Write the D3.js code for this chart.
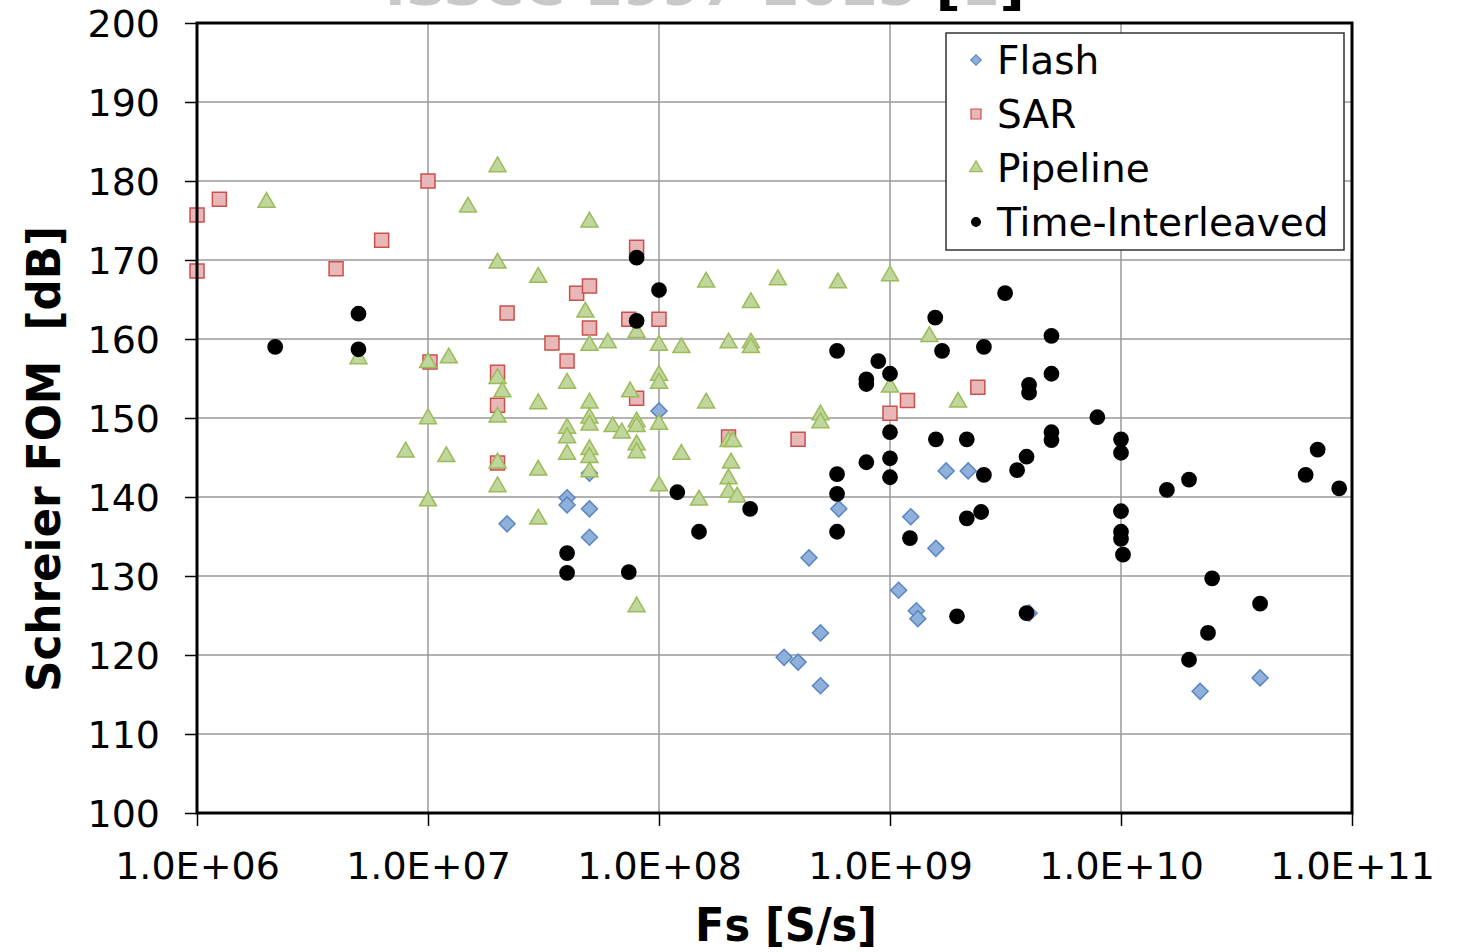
<!DOCTYPE html>
<meta charset="utf-8">
<script src="https://cdnjs.cloudflare.com/ajax/libs/d3/7.8.5/d3.min.js"></script>
<style>
  body { margin: 0; background: #fff; }
  text { font-family: "DejaVu Sans", Verdana, sans-serif; }
</style>
<div id="my_dataviz"></div>
<script>

// series data: [Fs in S/s, Schreier FOM in dB]
var flash = [
  [2.2e7, 136.6], [4e7, 139.9], [4e7, 139.0], [5e7, 143.0], [5e7, 138.5],
  [5e7, 134.9], [1e8, 150.9], [6e8, 138.5], [4.46e8, 132.3], [5e8, 122.8],
  [3.48e8, 119.7], [4e8, 119.1], [5e8, 116.1], [1.75e9, 143.3], [2.18e9, 143.3],
  [1.23e9, 137.5], [1.58e9, 133.5], [1.09e9, 128.2], [1.3e9, 125.6], [1.32e9, 124.6],
  [4e9, 125.3], [2.2e10, 115.4], [4e10, 117.1]
];

var sar = [
  [1e6, 175.7], [1e6, 168.6], [1.25e6, 177.7], [4e6, 168.9], [6.3e6, 172.5],
  [1e7, 180.0], [1.02e7, 157.1], [2.2e7, 163.3], [2e7, 155.8], [2e7, 151.6],
  [2e7, 144.3], [3.44e7, 159.5], [4e7, 157.2], [4.4e7, 165.8], [5e7, 166.7],
  [5e7, 161.4], [7.4e7, 162.5], [8e7, 171.6], [8e7, 152.5], [1e8, 162.5],
  [2e8, 147.6], [4e8, 147.3], [1e9, 150.6], [1.19e9, 152.2], [2.4e9, 153.9]
];

var pipeline = [
  [2e6, 177.3], [1.49e7, 176.7], [5e6, 157.5], [1e7, 157.0], [1.23e7, 157.6],
  [2e7, 181.8], [5e7, 174.8], [2e7, 169.6], [3e7, 167.8], [4.8e7, 163.4],
  [8e7, 160.8], [5e7, 159.2], [6e7, 159.5], [1e8, 159.2], [1.25e8, 158.9],
  [2e7, 155.0], [2.1e7, 153.3], [4e7, 154.4], [1e8, 155.4], [1e8, 154.4],
  [7.5e7, 153.3], [3e7, 151.8], [5e7, 151.9], [1.6e8, 151.9], [2e7, 150.1],
  [4e7, 148.7], [4e7, 147.5], [5e7, 150.0], [5e7, 149.1], [6.3e7, 148.9],
  [6.9e7, 148.1], [8e7, 149.5], [8e7, 148.9], [1e8, 149.2], [2e8, 147.0],
  [8e7, 146.6], [8e7, 145.6], [4e7, 145.4], [5e7, 146.0], [5e7, 145.0],
  [2e7, 144.3], [3e7, 143.4], [5e7, 143.2], [1.25e8, 145.4], [2.05e8, 144.3],
  [2e8, 142.3], [2e8, 140.6], [2.18e8, 140.0], [2e7, 141.3], [1e8, 141.4],
  [1.49e8, 139.6], [3e7, 137.2], [8e7, 126.1], [1e7, 149.9], [8e6, 145.7],
  [1.2e7, 145.1], [1e7, 139.5], [1.6e8, 167.2], [3.27e8, 167.5], [5.95e8, 167.1],
  [1e9, 168.0], [2.5e8, 164.6], [2e8, 159.5], [2.5e8, 159.5], [2.5e8, 158.9],
  [1.48e9, 160.3], [1e9, 153.9], [1.97e9, 152.0], [5e8, 150.4], [5e8, 149.4],
  [2.09e8, 147.0]
];

var timeInterleaved = [
  [2.18e6, 159.0], [5e6, 163.2], [5e6, 158.7], [8e7, 170.3], [1e8, 166.2],
  [8e7, 162.3], [1.2e8, 140.6], [2.48e8, 138.5], [1.49e8, 135.6], [4e7, 132.9],
  [4e7, 130.4], [7.4e7, 130.5], [3.15e9, 165.8], [1.57e9, 162.7], [1.68e9, 158.5],
  [2.55e9, 159.0], [5.9e8, 158.5], [8.9e8, 157.2], [1e9, 155.6], [7.9e8, 154.9],
  [7.9e8, 154.3], [1e9, 148.2], [1.58e9, 147.3], [2.15e9, 147.3], [7.9e8, 144.4],
  [1e9, 144.9], [1e9, 142.5], [5.9e8, 142.9], [2.55e9, 142.8], [3.55e9, 143.4],
  [5.9e8, 140.4], [5.9e8, 135.6], [1.22e9, 134.8], [2.15e9, 137.3], [2.48e9, 138.1],
  [1.95e9, 124.9], [3.9e9, 125.3], [5e9, 160.4], [5e9, 155.6], [4e9, 154.2],
  [4e9, 153.2], [7.9e9, 150.1], [5e9, 148.2], [5e9, 147.2], [3.9e9, 145.1],
  [1e10, 147.3], [1e10, 145.6], [1.58e10, 140.9], [1.97e10, 142.2], [7.1e10, 146.0],
  [6.3e10, 142.8], [8.8e10, 141.1], [1e10, 138.2], [1e10, 135.6], [1e10, 134.7],
  [1.02e10, 132.7], [2.48e10, 129.7], [4e10, 126.5], [2.38e10, 122.8], [1.97e10, 119.4]
];

var seriesNames = ["Flash", "SAR", "Pipeline", "Time-Interleaved"];
var xTicks = [1e6, 1e7, 1e8, 1e9, 1e10, 1e11];
var yTicks = [100, 110, 120, 130, 140, 150, 160, 170, 180, 190, 200];

// set the dimensions and margins of the graph
var margin = {top: 23, right: 105, bottom: 139, left: 197},
    width = 1457 - margin.left - margin.right,
    height = 952 - margin.top - margin.bottom;

var svg = d3.select("#my_dataviz")
  .append("svg")
    .attr("width", 1457)
    .attr("height", 952);

var g = svg.append("g")
    .attr("transform", "translate(" + margin.left + "," + margin.top + ")");

var x = d3.scaleLog().domain([1e6, 1e11]).range([0, width]);
var y = d3.scaleLinear().domain([100, 200]).range([height, 0]);

// marker styles per series
var styles = {
  "Flash":            {type: d3.symbolSquare,   size: 128, rotate: 45, fill: "#8fb0da", stroke: "#5b86c2"},
  "SAR":              {type: d3.symbolSquare,   size: 196, rotate: 0,  fill: "#e8b8b8", stroke: "#c9504c"},
  "Pipeline":         {type: d3.symbolTriangle, size: 125, rotate: 0,  fill: "#c1d69c", stroke: "#9bbb59"},
  "Time-Interleaved": {type: d3.symbolCircle,   size: 160, rotate: 0,  fill: "#000000", stroke: "#000000"}
};

// gridlines
g.append("g")
  .selectAll("line.vgrid")
  .data(xTicks)
  .enter().append("line")
    .attr("x1", function(d) { return x(d); })
    .attr("x2", function(d) { return x(d); })
    .attr("y1", 0).attr("y2", height)
    .attr("stroke", "#9a9a9a").attr("stroke-width", 1.5);

g.append("g")
  .selectAll("line.hgrid")
  .data(yTicks)
  .enter().append("line")
    .attr("x1", 0).attr("x2", width)
    .attr("y1", function(d) { return y(d); })
    .attr("y2", function(d) { return y(d); })
    .attr("stroke", "#9a9a9a").attr("stroke-width", 1.5);

// Add the x Axis
var xAxis = g.append("g")
    .attr("transform", "translate(0," + height + ")")
    .call(d3.axisBottom(x)
      .tickValues(xTicks)
      .tickSize(13)
      .tickPadding(26)
      .tickFormat(function(d) { return "1.0E+" + d3.format("02d")(Math.round(Math.log10(d))); }));

// Add the y Axis
var yAxis = g.append("g")
    .call(d3.axisLeft(y)
      .tickValues(yTicks)
      .tickSize(12)
      .tickPadding(25)
      .tickFormat(d3.format("d")));

[xAxis, yAxis].forEach(function(a) {
  a.select(".domain").remove();
  a.selectAll(".tick line").attr("stroke", "#000").attr("stroke-width", 1.5);
  a.selectAll(".tick text")
    .attr("fill", "#000")
    .style("font-size", "38px")
    .style("font-family", "'DejaVu Sans', Verdana, sans-serif");
});
yAxis.selectAll(".tick text").attr("dy", "0.36em");

// points, drawn in series order so later series sit on top
var allData = [flash, sar, pipeline, timeInterleaved];
allData.forEach(function(data, i) {
  var st = styles[seriesNames[i]];
  g.append("g")
    .selectAll("path")
    .data(data)
    .enter().append("path")
      .attr("d", d3.symbol().type(st.type).size(st.size))
      .attr("transform", function(d) {
        return "translate(" + x(d[0]) + "," + y(d[1]) + ") rotate(" + st.rotate + ")";
      })
      .attr("fill", st.fill)
      .attr("stroke", st.stroke)
      .attr("stroke-width", 1.5);
});

// plot border
g.append("rect")
    .attr("x", 0).attr("y", 0)
    .attr("width", width).attr("height", height)
    .attr("fill", "none")
    .attr("stroke", "#000")
    .attr("stroke-width", 3);

// legend
var legend = svg.append("g").attr("transform", "translate(946,33)");
legend.append("rect")
    .attr("width", 398).attr("height", 217)
    .attr("fill", "#fff")
    .attr("stroke", "#333").attr("stroke-width", 1.5);

var legendSize = {"Flash": 55, "SAR": 100, "Pipeline": 70, "Time-Interleaved": 60};
seriesNames.forEach(function(name, i) {
  var st = styles[name];
  var row = legend.append("g").attr("transform", "translate(0," + (27 + i * 54) + ")");
  row.append("path")
    .attr("d", d3.symbol().type(st.type).size(legendSize[name]))
    .attr("transform", "translate(30,0) rotate(" + st.rotate + ")")
    .attr("fill", st.fill)
    .attr("stroke", st.stroke)
    .attr("stroke-width", 1.2);
  row.append("text")
    .attr("x", 51)
    .attr("dy", "0.36em")
    .style("font-size", "39px")
    .text(name);
});

// axis titles
svg.append("text")
    .attr("x", 786)
    .attr("y", 941)
    .attr("text-anchor", "middle")
    .style("font-size", "46px")
    .style("font-weight", "bold")
    .attr("textLength", 182)
    .attr("lengthAdjust", "spacingAndGlyphs")
    .text("Fs [S/s]");

svg.append("text")
    .attr("transform", "translate(60,459) rotate(-90)")
    .attr("text-anchor", "middle")
    .style("font-size", "46px")
    .style("font-weight", "bold")
    .style("white-space", "pre")
    .attr("textLength", 466)
    .attr("lengthAdjust", "spacingAndGlyphs")
    .text("Schreier FOM  [dB]");

// title, cut off at the top edge of the picture
var title = svg.append("text")
    .attr("x", 385)
    .attr("y", 5)
    .style("font-size", "46px")
    .style("font-weight", "bold")
    .attr("textLength", 640)
    .attr("lengthAdjust", "spacingAndGlyphs");
title.append("tspan").attr("fill", "#c8c8c8").text("ISSCC 1997-2015 ");
title.append("tspan").attr("fill", "#000").text("[");
title.append("tspan").attr("fill", "#c8c8c8").text("1");
title.append("tspan").attr("fill", "#000").text("]");

</script>
